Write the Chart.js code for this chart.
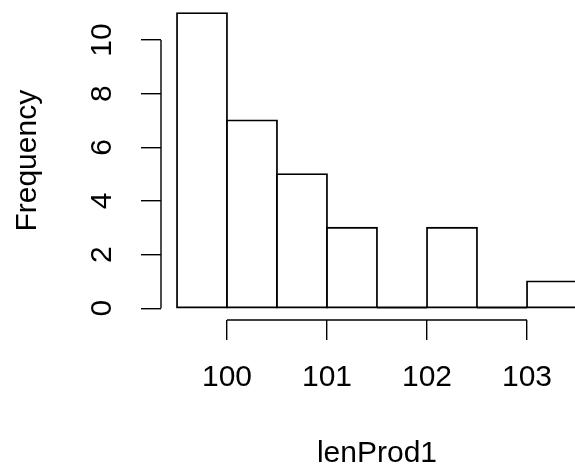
<!DOCTYPE html>
<html>
<head>
<meta charset="utf-8">
<script src="https://cdn.jsdelivr.net/npm/chart.js@4.4.1/dist/chart.umd.min.js"></script>
<style>
  html, body { margin: 0; padding: 0; background: #ffffff; overflow: hidden; }
  #wrap { width: 575px; height: 470px; position: relative; overflow: hidden; }
  #c { position: absolute; left: 0; top: 0; }
</style>
</head>
<body>
<div id="wrap"><canvas id="c" width="593" height="470"></canvas></div>
<script>
// ---- data ----
const binEdges = [99.5, 100, 100.5, 101, 101.5, 102, 102.5, 103, 103.5];
const frequencies = [11, 7, 5, 3, 0, 3, 0, 1];
const xTickValues = [100, 101, 102, 103];
const yTickValues = [0, 2, 4, 6, 8, 10];
const xTitle = 'lenProd1';
const yTitle = 'Frequency';

const binMids = frequencies.map((_, i) => (binEdges[i] + binEdges[i + 1]) / 2);
const points = frequencies.map((f, i) => ({ x: binMids[i], y: f }));

const FONT = "'Liberation Sans', Arial, Helvetica, sans-serif";
const FSIZE = 30;
const BAR_LW = 1.8;

// R-style axes: line only from first to last tick, labels rotated on y
const rAxes = {
  id: 'rAxes',
  afterDraw(chart) {
    const ctx = chart.ctx;
    const xs = chart.scales.x, ys = chart.scales.y;
    const area = chart.chartArea;
    ctx.save();
    ctx.strokeStyle = '#000';
    // zero-height bins are drawn as a flat line on the bars' base
    // (Chart.js lifts the bar base by half the zero grid line width)
    const baseY = ys.getPixelForValue(0) - ys.getLineWidthForValue(0) / 2;
    ctx.lineWidth = BAR_LW;
    frequencies.forEach((f, i) => {
      if (f !== 0) return;
      ctx.beginPath();
      ctx.moveTo(xs.getPixelForValue(binEdges[i]), baseY);
      ctx.lineTo(xs.getPixelForValue(binEdges[i + 1]), baseY);
      ctx.stroke();
    });
    ctx.lineWidth = 1.4;
    // x axis line
    ctx.beginPath();
    ctx.moveTo(xs.getPixelForValue(xTickValues[0]), area.bottom);
    ctx.lineTo(xs.getPixelForValue(xTickValues[xTickValues.length - 1]), area.bottom);
    ctx.stroke();
    // y axis line
    ctx.beginPath();
    ctx.moveTo(area.left, ys.getPixelForValue(yTickValues[0]));
    ctx.lineTo(area.left, ys.getPixelForValue(yTickValues[yTickValues.length - 1]));
    ctx.stroke();
    // y tick labels, rotated
    ctx.fillStyle = '#000';
    ctx.font = FSIZE + 'px ' + FONT;
    ctx.textAlign = 'center';
    ctx.textBaseline = 'middle';
    yTickValues.forEach(v => {
      ctx.save();
      ctx.translate(area.left - 58, ys.getPixelForValue(v));
      ctx.rotate(-Math.PI / 2);
      ctx.fillText(String(v), 0, 0);
      ctx.restore();
    });
    ctx.restore();
  }
};

new Chart(document.getElementById('c'), {
  type: 'bar',
  data: {
    datasets: [{
      data: points,
      backgroundColor: '#ffffff',
      borderColor: '#000',
      borderWidth: BAR_LW,
      borderSkipped: false,
      inflateAmount: BAR_LW / 2,
      barPercentage: 1,
      categoryPercentage: 1
    }]
  },
  options: {
    responsive: false,
    animation: false,
    devicePixelRatio: 1,
    layout: { padding: { left: 0, top: 1.4, right: 0, bottom: 0 } },
    plugins: { legend: { display: false }, tooltip: { enabled: false } },
    scales: {
      x: {
        type: 'linear',
        offset: false,
        min: 99.34,
        max: 103.66,
        afterBuildTicks: s => { s.ticks = xTickValues.map(v => ({ value: v })); },
        afterFit: s => { s.height = 150; },
        border: { display: false },
        grid: { display: true, offset: false, drawOnChartArea: false, drawTicks: true, tickLength: 20, color: '#000', lineWidth: 1.4 },
        ticks: {
          autoSkip: false, maxRotation: 0, minRotation: 0, padding: 20,
          color: '#000', font: { family: FONT, size: FSIZE },
          callback: v => String(v)
        },
        title: {
          display: true, text: xTitle, color: '#000',
          font: { family: FONT, size: FSIZE, lineHeight: 1 },
          padding: { top: 0, bottom: 1 }
        }
      },
      y: {
        type: 'linear',
        min: -0.44,
        max: 11.44,
        afterBuildTicks: s => { s.ticks = yTickValues.map(v => ({ value: v })); },
        afterFit: s => { s.width = 161; },
        border: { display: false },
        grid: { display: true, drawOnChartArea: false, drawTicks: true, tickLength: 20, color: '#000', lineWidth: 1.4 },
        ticks: { display: false },
        title: {
          display: true, text: yTitle, color: '#000',
          font: { family: FONT, size: FSIZE, lineHeight: 1 },
          padding: { top: 13, bottom: 0 }
        }
      }
    }
  },
  plugins: [rAxes]
});
</script>
</body>
</html>
